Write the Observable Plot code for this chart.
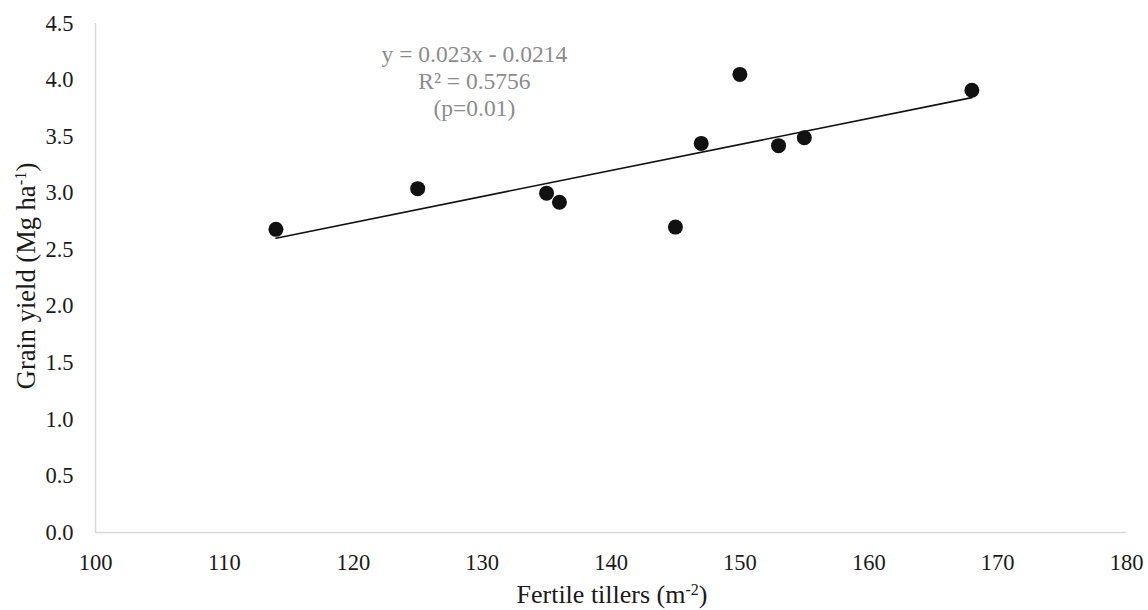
<!DOCTYPE html>
<html>
<head>
<meta charset="utf-8">
<script src="https://cdn.jsdelivr.net/npm/d3@7"></script>
<script src="https://cdn.jsdelivr.net/npm/@observablehq/plot@0.6"></script>
<style>
  html, body { margin: 0; padding: 0; background: #fff; }
  #chart svg { display: block; }
  #chart svg, #chart svg text { font-family: "Liberation Serif", "DejaVu Serif", serif !important; }
</style>
</head>
<body>
<div id="chart"></div>
<script>
const tillers = [114, 125, 135, 136, 145, 147, 150, 153, 155, 168];
const grainYield = [2.68, 3.04, 3.00, 2.92, 2.70, 3.44, 4.05, 3.42, 3.49, 3.91];
const xTicks = [100, 110, 120, 130, 140, 150, 160, 170, 180];
const yTicks = [0, 0.5, 1.0, 1.5, 2.0, 2.5, 3.0, 3.5, 4.0, 4.5];
const equationLines = ["y = 0.023x - 0.0214", "R² = 0.5756", "(p=0.01)"];

const data = tillers.map((x, i) => ({x, y: grainYield[i]}));

const W = 1148, H = 610;
const mL = 95, mR = 22, mT = 23, mB = 78;

const chart = Plot.plot({
  width: W,
  height: H,
  marginLeft: mL,
  marginRight: mR,
  marginTop: mT,
  marginBottom: mB,
  style: {fontFamily: "Liberation Serif", fontSize: "22px", color: "#1a1a1a", background: "#fff", overflow: "visible"},
  x: {domain: [100, 180], ticks: xTicks, label: null},
  y: {domain: [0, 4.5], ticks: yTicks, label: null, tickFormat: d3.format(".1f")},
  marks: [
    Plot.ruleY([0], {stroke: "#d9d9d9", strokeWidth: 1.5}),
    Plot.ruleX([100], {stroke: "#d9d9d9", strokeWidth: 1.5}),
    Plot.axisX({ticks: xTicks, tickSize: 0, tickPadding: 22, fontSize: 22.5, label: null}),
    Plot.axisY({ticks: yTicks, tickSize: 0, tickPadding: 22, fontSize: 22.5, label: null, tickFormat: d3.format(".1f")}),
    Plot.linearRegressionY(data, {x: "x", y: "y", ci: 0, stroke: "#111", strokeWidth: 1.6}),
    Plot.dot(data, {x: "x", y: "y", r: 7.5, fill: "#111", stroke: "none"}),
    Plot.text([equationLines.join("\n")], {x: 129.4, y: 4.0, text: d => d, fill: "#8c8c8c", fontSize: 23.5, lineHeight: 1.16, lineAnchor: "middle", textAnchor: "middle"})
  ]
});

const svg = d3.select(chart);
const xt = svg.append("text")
  .attr("x", 612)
  .attr("y", 603)
  .attr("text-anchor", "middle")
  .attr("fill", "#1a1a1a")
  .style("font-size", "26px");
xt.append("tspan").text("Fertile tillers (m");
xt.append("tspan").attr("baseline-shift", "super").style("font-size", "16px").text("-2");
xt.append("tspan").text(")");

const yt = svg.append("text")
  .attr("transform", `translate(35, 276) rotate(-90)`)
  .attr("text-anchor", "middle")
  .attr("fill", "#1a1a1a")
  .style("font-size", "26.5px");
yt.append("tspan").text("Grain yield (Mg ha");
yt.append("tspan").attr("baseline-shift", "super").style("font-size", "16.5px").text("-1");
yt.append("tspan").text(")");

document.getElementById("chart").appendChild(chart);
</script>
</body>
</html>
